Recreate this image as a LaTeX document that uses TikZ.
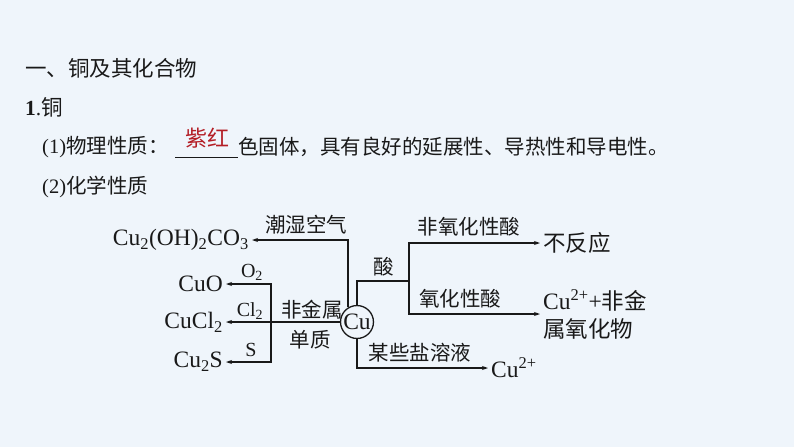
\documentclass[tikz,border=0pt]{standalone}
\usepackage{fontspec}
\setmainfont{Liberation Serif}
\newfontfamily\cjk{Noto Sans CJK SC}
\usetikzlibrary{arrows.meta}
\definecolor{bgblue}{RGB}{239,245,251}
\definecolor{ink}{RGB}{25,25,25}
\definecolor{zired}{RGB}{180,30,38}
\tikzset{
  txt/.style={inner sep=0pt, text=ink, font=\cjk\fontsize{20.5}{24}\selectfont},
  chem/.style={inner sep=0pt, text=ink, font=\rmfamily\fontsize{23.5}{27}\selectfont},
  sml/.style={inner sep=0pt, text=ink, font=\rmfamily\fontsize{20}{22}\selectfont},
  arr/.style={-{Stealth[length=6pt,width=4pt]}, shorten >=3pt},
  wire/.style={draw=ink, line width=1.3pt}
}
\begin{document}
\begin{tikzpicture}[x=1pt, y=-1pt]
    \fill[bgblue] (0,0) rectangle (794,447);
    \useasboundingbox (0,0) rectangle (794,447);
    % heading lines
    \node[txt, anchor = west, font=\cjk\fontsize{21.5}{24}\selectfont] (title) at (25,68) {一、铜及其化合物};
    \node[txt, anchor = west, font=\cjk\fontsize{21.5}{24}\selectfont] (sec) at (25,107) {{\rmfamily\bfseries 1}{\rmfamily .}铜};
    \node[txt, anchor = west] (phys) at (42,147) {{\rmfamily (1)}物理性质：};
    \node[txt, anchor = center, text=zired, font=\cjk\fontsize{22}{24}\selectfont] (blank) at (207,138) {紫红};
    \coordinate (ul1) at (175,157);
    \coordinate (ul2) at (238,157);
    \draw[ink, line width=0.8pt] (ul1) -- (ul2);
    \node[txt, anchor = west] (physrest) at (238,147) {色固体，具有良好的延展性、导热性和导电性。};
    \node[txt, anchor = west] (chemp) at (42,187) {{\rmfamily (2)}化学性质};
    % copper and products
    \node[chem, circle, draw=ink, line width=1.3pt, minimum size=32pt, inner sep=0.5pt] (cu) at (357,322) {Cu};
    \node[chem, anchor = east] (basic) at (249,240) {Cu\textsubscript{2}(OH)\textsubscript{2}CO\textsubscript{3}};
    \node[chem, anchor = east] (cuo) at (223,284) {CuO};
    \node[chem, anchor = east] (cucl) at (223,322) {CuCl\textsubscript{2}};
    \node[chem, anchor = east] (cus) at (223,362) {Cu\textsubscript{2}S};
    \node[txt, anchor = west, font=\cjk\fontsize{22.5}{28}\selectfont] (nor) at (543,243) {不反应};
    \node[txt, anchor = west, align=left, font=\cjk\fontsize{22.5}{28}\selectfont] (oxp) at (543,314) {{\rmfamily\fontsize{23.5}{28}\selectfont Cu\textsuperscript{2+}+}非金\\属氧化物};
    \node[chem, anchor = west] (cuion) at (491,368) {Cu\textsuperscript{2+}};
    \coordinate (nm) at (271,322);
    \coordinate (acid) at (409,281);
    % connectors
    \draw[wire, arr] (cu.122) |- (basic.east);
    \draw[wire, arr] (cu.west) -- (cucl.east);
    \draw[wire, arr] (nm) |- (cuo.east);
    \draw[wire, arr] (nm) |- (cus.east);
    \draw[wire] (cu.north) |- (acid);
    \draw[wire, arr] (acid) |- (nor.west);
    \draw[wire, arr] (acid) |- (oxp.west);
    \draw[wire, arr] (cu.south) |- (cuion.west);
    % labels
    \node[txt] (lmoist) at (306,225) {潮湿空气};
    \node[sml] (lo) at (252,272) {O\textsubscript{2}};
    \node[sml] (lcl) at (250,311) {Cl\textsubscript{2}};
    \node[sml] (ls) at (251,350) {S};
    \node[txt] (lnm1) at (312,310) {非金属};
    \node[txt] (lnm2) at (310,340) {单质};
    \node[txt] (lacid) at (384,267) {酸};
    \node[txt] (lnox) at (469,227) {非氧化性酸};
    \node[txt] (lox) at (460,299) {氧化性酸};
    \node[txt] (lsalt) at (420,353) {某些盐溶液};
\end{tikzpicture}
\end{document}
